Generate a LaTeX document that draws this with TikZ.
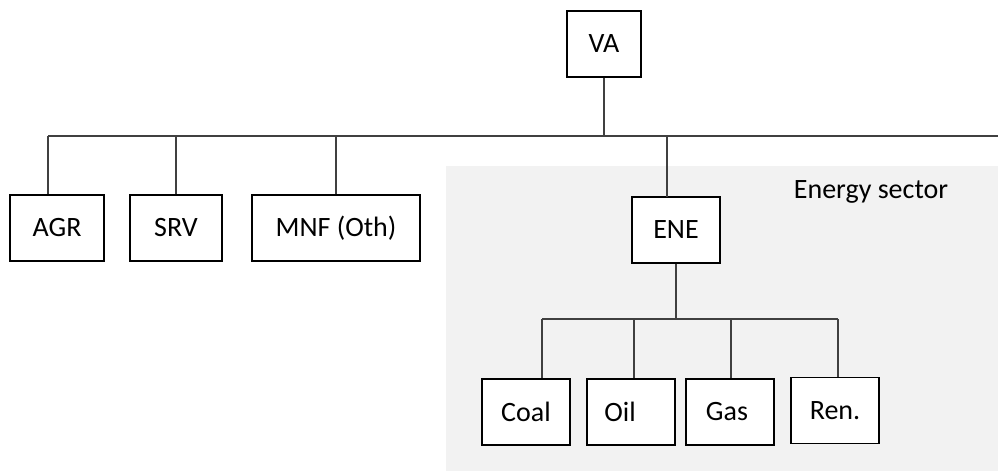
\documentclass[tikz,border=0pt]{standalone}
\usepackage{fontspec}
\setmainfont{Carlito}
\begin{document}
\begin{tikzpicture}[x=1pt,y=-1pt,
  box/.style={draw=black, line width=1.3pt, fill=white, minimum height=66pt, inner sep=0pt, font=\fontsize{28}{32}\selectfont},
  link/.style={draw=black!75, line width=1.4pt}]
\useasboundingbox (0,0) rectangle (998,471);
\fill[black!5] (446,166) rectangle (998,471);
\node[font=\fontsize{28}{32}\selectfont] (lab) at (871,192) {Energy sector};
% top level
\node[box, minimum width=74pt] (VA) at (604,44) {VA};
\coordinate (busL) at (48,136);
\coordinate (busR) at (998,136);
\draw[link] (busL) -- (busR);
\node[box, minimum width=94pt] (AGR) at (57,228) {AGR};
\node[box, minimum width=92pt] (SRV) at (176,228) {SRV};
\node[box, minimum width=168pt] (MNF) at (336,228) {MNF (Oth)};
\node[box, minimum width=88pt] (ENE) at (676,230) {ENE};
\coordinate (eneTop) at (667,197);
\draw[link] (VA.south) -- (VA.south |- busL);
\draw[link] (busL) -- (busL |- AGR.north);
\draw[link] (SRV.north) -- (SRV.north |- busL);
\draw[link] (MNF.north) -- (MNF.north |- busL);
\draw[link] (eneTop) -- (eneTop |- busL);
% energy subtree
\coordinate (subL) at (542,319);
\coordinate (subR) at (838,319);
\draw[link] (subL) -- (subR);
\draw[link] (ENE.south) -- (ENE.south |- subL);
\node[box, minimum width=88pt] (Coal) at (526,412) {Coal};
\node[box, minimum width=88pt] (Oil) at (631,412) {\hspace*{-22pt}Oil};
\node[box, minimum width=88pt] (Gas) at (730,412) {\hspace*{-6pt}Gas};
\node[box, minimum width=88pt] (Ren) at (835,410.5) {Ren.};
\draw[link] (subL) -- (subL |- Coal.north);
\draw[link] (subL -| 634,0) -- (634,0 |- Oil.north);
\draw[link] (subL -| 731,0) -- (731,0 |- Gas.north);
\draw[link] (subR) -- (subR |- Ren.north);
\end{tikzpicture}
\end{document}
